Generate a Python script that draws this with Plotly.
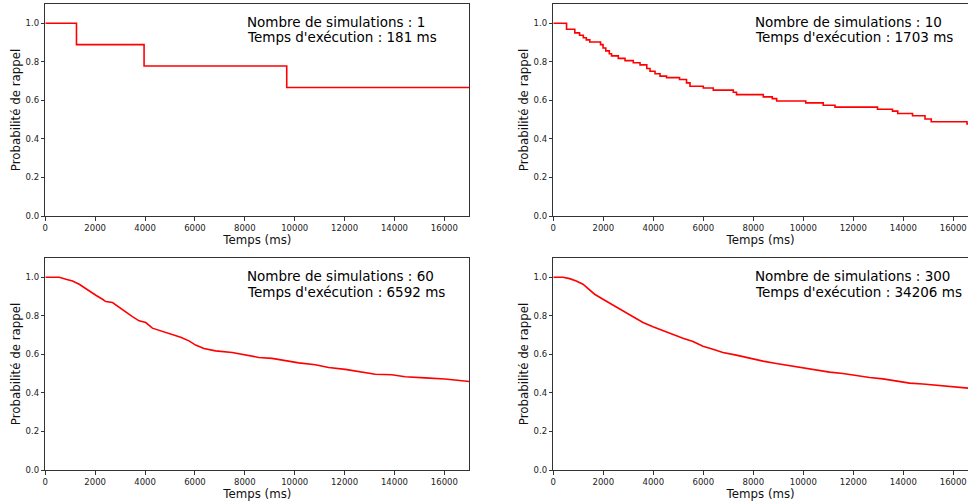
import plotly.graph_objects as go

# ---- data ----
# Plot 1: 1 simulation (step curve)
t1 = [0, 1250, 3960, 9680, 17000]
p1 = [1.0, 0.889, 0.778, 0.667, 0.667]

# Plot 2: 10 simulations (step curve; step start times and values)
t2 = [0, 530, 860, 1050, 1200, 1320, 1460, 1890, 1990, 2100, 2240, 2330, 2600,
      2870, 3200, 3470, 3740, 3870, 4070, 4270, 4530, 5050, 5330, 5470, 6000,
      6400, 7200, 7330, 8400, 8760, 8935, 10100, 10800, 11270, 12970, 13570,
      13780, 14370, 14870, 15120, 16550, 17000]
p2 = [1.0, 0.969, 0.950, 0.938, 0.925, 0.914, 0.903, 0.889, 0.872, 0.857, 0.842,
      0.831, 0.818, 0.806, 0.795, 0.784, 0.765, 0.751, 0.738, 0.726, 0.718, 0.708,
      0.691, 0.673, 0.664, 0.653, 0.642, 0.630, 0.618, 0.609, 0.597, 0.587, 0.575,
      0.565, 0.554, 0.544, 0.532, 0.520, 0.503, 0.489, 0.477, 0.477]

# Plot 3: 60 simulations
t3 = [0, 560, 827, 1093, 1360, 1627, 2027, 2293, 2427, 2693, 2960, 3227, 3493,
      3760, 4027, 4293, 4560, 4827, 5093, 5427, 5760, 6027, 6360, 6827, 7493,
      8027, 8560, 9093, 9627, 10160, 10827, 11360, 12027, 12693, 13227, 13893,
      14427, 15227, 16027, 17000]
p3 = [1.0, 1.0, 0.990, 0.981, 0.964, 0.943, 0.907, 0.886, 0.874, 0.869, 0.843,
      0.817, 0.796, 0.774, 0.765, 0.736, 0.725, 0.710, 0.699, 0.689, 0.670, 0.648,
      0.630, 0.618, 0.610, 0.598, 0.584, 0.579, 0.566, 0.556, 0.546, 0.532, 0.522,
      0.506, 0.497, 0.494, 0.484, 0.478, 0.472, 0.459]

# Plot 4: 300 simulations
t4 = [0, 387, 653, 920, 1187, 1387, 1653, 1987, 2387, 2787, 3187, 3587, 3987,
      4387, 4787, 5187, 5587, 5987, 6387, 6787, 7320, 7853, 8387, 8920, 9453,
      9987, 10520, 11053, 11587, 12120, 12653, 13187, 13720, 14253, 14787,
      15320, 15853, 16520, 17000]
p4 = [1.0, 1.0, 0.993, 0.981, 0.964, 0.943, 0.912, 0.886, 0.855, 0.826, 0.794,
      0.765, 0.743, 0.722, 0.705, 0.684, 0.667, 0.642, 0.627, 0.610, 0.596, 0.580,
      0.565, 0.553, 0.542, 0.528, 0.518, 0.508, 0.501, 0.489, 0.480, 0.473, 0.463,
      0.451, 0.446, 0.439, 0.432, 0.425, 0.420]

n_sims = [1, 10, 60, 300]
exec_ms = [181, 1703, 6592, 34206]

x_tick_vals = [0, 2000, 4000, 6000, 8000, 10000, 12000, 14000, 16000]
x_tick_text = ["0", "2000", "4000", "6000", "8000", "10000", "12000", "14000", "16000"]
y_tick_vals = [0.0, 0.2, 0.4, 0.6, 0.8, 1.0]

# ---- layout ----
W, H = 968, 502
RED = "#ff0000"
AX = "#333333"
FONT = "DejaVu Sans"

fig = go.Figure()

series = [(t1, p1, "hv"), (t2, p2, "hv"), (t3, p3, "linear"), (t4, p4, "linear")]
# pixel boxes: (x0, x1, ytop, ybottom, xmax)
boxes = [(45.3, 469.3, 4, 216, 17000),
         (553.3, 968, 4, 216, 16590),
         (45.3, 469.3, 258, 470, 17000),
         (553.3, 968, 258, 470, 16590)]

for i, ((tt, pp, shape), (x0, x1, yt, yb, xmax)) in enumerate(zip(series, boxes)):
    k = "" if i == 0 else str(i + 1)
    fig.add_trace(go.Scatter(x=tt, y=pp, mode="lines", line=dict(color=RED, width=1.6, shape=shape),
                             xaxis="x" + k, yaxis="y" + k, showlegend=False, hoverinfo="skip"))
    right = i in (1, 3)
    xa = dict(domain=[x0 / W, x1 / W], range=[0, xmax], anchor="y" + k,
              tickvals=x_tick_vals, ticktext=x_tick_text, ticks="outside", ticklen=3.5, tickwidth=1,
              tickcolor=AX,
              showline=True, linecolor=AX, linewidth=1, mirror=True, showgrid=False, zeroline=False,
              tickfont=dict(family=FONT, size=8.5, color="#222"),
              title=dict(text="Temps (ms)", font=dict(family=FONT, size=11.8, color="#111"), standoff=2),
              automargin=False)
    ya = dict(domain=[1 - yb / H, 1 - yt / H], range=[0, 1.1], anchor="x" + k,
              tickvals=y_tick_vals, tickformat=".1f", ticks="outside", ticklen=3.5, tickwidth=1,
              tickcolor=AX, showline=True, linecolor=AX, linewidth=1, mirror=(not right),
              showgrid=False, zeroline=False,
              tickfont=dict(family=FONT, size=8.5, color="#222"),
              title=dict(text="Probabilité de rappel", font=dict(family=FONT, size=11.8, color="#111"),
                         standoff=2),
              automargin=False)
    fig.layout["xaxis" + k] = xa
    fig.layout["yaxis" + k] = ya

# annotation text positions (left x px, first baseline y px)
ann_pos = [(245.7, 26.7), (754, 26.7), (245.7, 281), (754, 281)]
fs = 13.5
for (ax_px, base), n, ms in zip(ann_pos, n_sims, exec_ms):
    lines = ["Nombre de simulations : %d" % n, "Temps d'exécution : %d ms" % ms]
    for j, txt in enumerate(lines):
        b = base + j * 15.3
        fig.add_annotation(x=ax_px / W, y=1 - (b - 0.35 * fs) / H, xref="paper", yref="paper",
                           text=txt, showarrow=False, xanchor="left", yanchor="middle",
                           font=dict(family=FONT, size=fs, color="#000"), borderpad=0)

fig.update_layout(width=W, height=H, margin=dict(l=0, r=0, t=0, b=0),
                  paper_bgcolor="white", plot_bgcolor="white")

fig.write_html("out.html")
